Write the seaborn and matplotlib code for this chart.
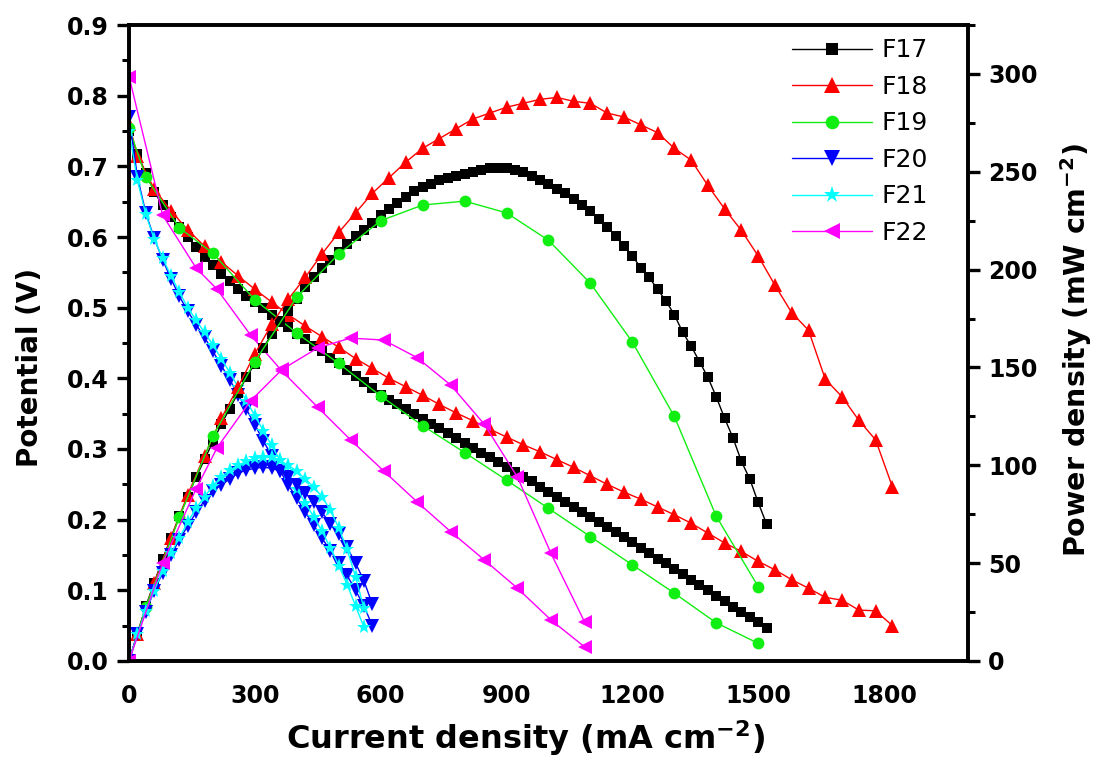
import matplotlib
matplotlib.use("Agg")
import seaborn as sns
from matplotlib import pyplot as plt
from matplotlib.ticker import MultipleLocator

# current density (mA cm-2), potential (V), power density (mW cm-2)
f17_i = [0, 20, 40, 60, 80, 100, 120, 140, 160, 180, 200, 220, 240, 260, 280, 300,
         320, 340, 360, 380, 400, 420, 440, 460, 480, 500, 520, 540, 560, 580, 600,
         620, 640, 660, 680, 700, 720, 740, 760, 780, 800, 820, 840, 860, 880, 900,
         920, 940, 960, 980, 1000, 1020, 1040, 1060, 1080, 1100, 1120, 1140, 1160, 1180, 1200,
         1220, 1240, 1260, 1280, 1300, 1320, 1340, 1360, 1380, 1400, 1420, 1440, 1460, 1480, 1500,
         1520]
f17_v = [0.750, 0.718, 0.690, 0.664, 0.645, 0.629, 0.614, 0.600, 0.586, 0.572, 0.560, 0.548, 0.538, 0.527, 0.517, 0.508,
         0.499, 0.490, 0.481, 0.472, 0.463, 0.455, 0.446, 0.438, 0.429, 0.421, 0.412, 0.403, 0.395, 0.386, 0.377,
         0.370, 0.363, 0.356, 0.349, 0.343, 0.336, 0.329, 0.322, 0.315, 0.309, 0.302, 0.295, 0.288, 0.282, 0.275,
         0.268, 0.261, 0.254, 0.246, 0.239, 0.232, 0.225, 0.218, 0.211, 0.204, 0.196, 0.189, 0.182, 0.175, 0.168,
         0.160, 0.153, 0.145, 0.138, 0.130, 0.123, 0.115, 0.107, 0.100, 0.092, 0.085, 0.077, 0.070, 0.062, 0.055,
         0.047]
f17_p = [0, 14, 28, 40, 52, 63, 74, 84, 94, 103, 112, 121, 129, 137, 145, 152,
         160, 167, 173, 179, 185, 191, 196, 201, 205, 209, 213, 217, 220, 224, 228,
         231, 234, 237, 240, 242, 244, 246, 247, 248, 249, 250, 251, 252, 252, 252,
         251, 250, 248, 246, 244, 241, 239, 236, 233, 230, 226, 222, 217, 212, 207,
         201, 196, 190, 184, 177, 168, 161, 153, 145, 135, 124, 114, 102, 93, 81,
         70]

f18_i = [0, 20, 60, 100, 140, 180, 220, 260, 300, 340, 380, 420, 460, 500, 540, 580,
         620, 660, 700, 740, 780, 820, 860, 900, 940, 980, 1020, 1060, 1100, 1140, 1180,
         1220, 1260, 1300, 1340, 1380, 1420, 1460, 1500, 1540, 1580, 1620, 1660, 1700, 1740, 1780,
         1820]
f18_v = [0.760, 0.715, 0.668, 0.637, 0.610, 0.587, 0.565, 0.545, 0.526, 0.508, 0.490, 0.474, 0.459, 0.444, 0.428, 0.414,
         0.400, 0.388, 0.376, 0.363, 0.351, 0.340, 0.328, 0.317, 0.306, 0.296, 0.285, 0.274, 0.262, 0.250, 0.239,
         0.229, 0.218, 0.207, 0.195, 0.181, 0.167, 0.155, 0.141, 0.129, 0.115, 0.103, 0.090, 0.086, 0.072, 0.071,
         0.050]
f18_p = [0, 14, 40, 63, 85, 105, 124, 140, 157, 172, 185, 196, 208, 219, 229, 239,
         247, 255, 262, 267, 272, 277, 280, 283, 285, 287, 288, 286, 285, 280, 278,
         274, 270, 262, 256, 243, 231, 220, 207, 192, 178, 169, 144, 135, 123, 113,
         89]

f19_i = [0, 40, 120, 200, 300, 400, 500, 600, 700, 800, 900, 1000, 1100, 1200, 1300, 1400, 1500]
f19_v = [0.754, 0.685, 0.613, 0.577, 0.511, 0.464, 0.421, 0.375, 0.333, 0.295, 0.256, 0.216, 0.176, 0.136, 0.096, 0.054, 0.025]
f19_p = [0, 27.5, 73.5, 115, 153, 186, 208, 225, 233, 235, 229, 215, 193, 163, 125, 74, 38]

f20_i = [0, 20, 40, 60, 80, 100, 120, 140, 160, 180, 200, 220, 240, 260, 280, 300,
         320, 340, 360, 380, 400, 420, 440, 460, 480, 500, 520, 540, 560, 580]
f20_v = [0.770, 0.685, 0.634, 0.598, 0.568, 0.541, 0.516, 0.495, 0.476, 0.458, 0.438, 0.418, 0.398, 0.377, 0.356, 0.334,
         0.312, 0.290, 0.269, 0.249, 0.230, 0.211, 0.192, 0.174, 0.156, 0.139, 0.121, 0.100, 0.078, 0.050]
f20_p = [0, 14, 25, 36, 45, 54, 62, 69, 76, 82, 87, 90, 93, 96, 97.5, 98.5,
         99, 98.5, 97, 94, 90, 86, 81, 76, 70, 65, 58, 50, 41, 29]

f21_i = [0, 20, 40, 60, 80, 100, 120, 140, 160, 180, 200, 220, 240, 260, 280, 300,
         320, 340, 360, 380, 400, 420, 440, 460, 480, 500, 520, 540, 560]
f21_v = [0.750, 0.680, 0.632, 0.597, 0.570, 0.545, 0.522, 0.500, 0.482, 0.465, 0.447, 0.428, 0.408, 0.388, 0.368, 0.347,
         0.326, 0.305, 0.284, 0.264, 0.244, 0.224, 0.204, 0.184, 0.160, 0.135, 0.108, 0.078, 0.048]
f21_p = [0, 13.6, 25.5, 36, 46, 55, 63, 71, 78, 84, 89.5, 94, 97.5, 100, 102, 103.5,
         104, 104, 102.5, 100, 97, 93, 89, 84, 77, 68, 57, 43, 27]

f22_i = [0, 80, 160, 210, 290, 365, 450, 528, 607, 687, 767, 847, 926, 1006, 1086]
f22_v = [0.827, 0.631, 0.556, 0.526, 0.461, 0.410, 0.359, 0.313, 0.269, 0.225, 0.183, 0.143, 0.103, 0.058, 0.020]
f22_p = [0, 50, 88, 109, 133, 149, 160, 165, 164, 155, 141, 121, 94, 55, 20]

series = [
    ("F17", f17_i, f17_v, f17_p, "#000000", "s", 7),
    ("F18", f18_i, f18_v, f18_p, "#ff0000", "^", 10),
    ("F19", f19_i, f19_v, f19_p, "#11ee11", "o", 8.5),
    ("F20", f20_i, f20_v, f20_p, "#0000ff", "v", 9.5),
    ("F21", f21_i, f21_v, f21_p, "#00ffff", "*", 11),
    ("F22", f22_i, f22_v, f22_p, "#ff00ff", "<", 10),
]

sns.set_style("white")
plt.rcParams["font.family"] = ["DejaVu Sans", "Liberation Sans"]
plt.rcParams["mathtext.fontset"] = "dejavusans"
for key in ("text.color", "axes.labelcolor", "xtick.color", "ytick.color", "axes.edgecolor"):
    plt.rcParams[key] = "black"

fig = plt.figure(figsize=(11.03, 7.58), dpi=100)
ax = fig.add_axes([0.117, 0.128, 0.7605, 0.839])
ax2 = ax.twinx()

for name, cur, pot, pwr, col, mk, ms in series:
    sns.lineplot(x=cur, y=pot, ax=ax, color=col, marker=mk, markersize=ms,
                 markeredgewidth=0, linewidth=1, label=name, sort=False, estimator=None)
    sns.lineplot(x=cur, y=pwr, ax=ax2, color=col, marker=mk, markersize=ms,
                 markeredgewidth=0, linewidth=1, sort=False, estimator=None)

ax.set_xlim(0, 2000)
ax.set_ylim(0, 0.9)
ax2.set_ylim(0, 325)

ax.xaxis.set_major_locator(MultipleLocator(300))
ax.xaxis.set_minor_locator(MultipleLocator(150))
ax.yaxis.set_major_locator(MultipleLocator(0.1))
ax.yaxis.set_minor_locator(MultipleLocator(0.05))
ax2.yaxis.set_major_locator(MultipleLocator(50))
ax2.yaxis.set_minor_locator(MultipleLocator(25))
ax.yaxis.set_major_formatter(plt.FormatStrFormatter("%.1f"))

for a in (ax, ax2):
    for sp in a.spines.values():
        sp.set_linewidth(2.6)
        sp.set_color("black")
    a.tick_params(which="major", direction="out", length=8.5, width=2.4, pad=6, colors="black")
    a.tick_params(which="minor", direction="out", length=5, width=2.2, colors="black")
ax.tick_params(axis="x", which="major", pad=8)
ax.tick_params(which="both", top=False, right=False)
ax2.tick_params(which="both", left=False, right=True)

bold = dict(family="DejaVu Sans", weight="bold", color="black")
for lab in ax.get_xticklabels() + ax.get_yticklabels() + ax2.get_yticklabels():
    lab.set_fontfamily("DejaVu Sans")
    lab.set_fontweight("bold")
    lab.set_fontsize(17)

ax.set_xlabel(r"Current density (mA cm$\mathbf{^{-2}}$)", fontsize=23, **bold)
ax.set_ylabel("Potential (V)", fontsize=20, **bold)
ax2.set_ylabel(r"Power density (mW cm$\mathbf{^{-2}}$)", fontsize=20.5, **bold)
ax.xaxis.set_label_coords(0.473, -0.09)
ax.yaxis.set_label_coords(-0.101, 0.462)
ax2.yaxis.set_label_coords(1.107, 0.489)

if ax2.get_legend() is not None:
    ax2.get_legend().remove()
handles, labels = ax.get_legend_handles_labels()
leg = ax.legend(handles, labels, loc="upper left", bbox_to_anchor=(0.79, 0.979), frameon=False,
                prop={"family": "DejaVu Sans", "size": 18}, handlelength=3.2, labelspacing=0.5,
                borderpad=0, borderaxespad=0, handletextpad=0.4, markerscale=1.15)
for t in leg.get_texts():
    t.set_color("black")

fig.savefig("out.png", dpi=100)
